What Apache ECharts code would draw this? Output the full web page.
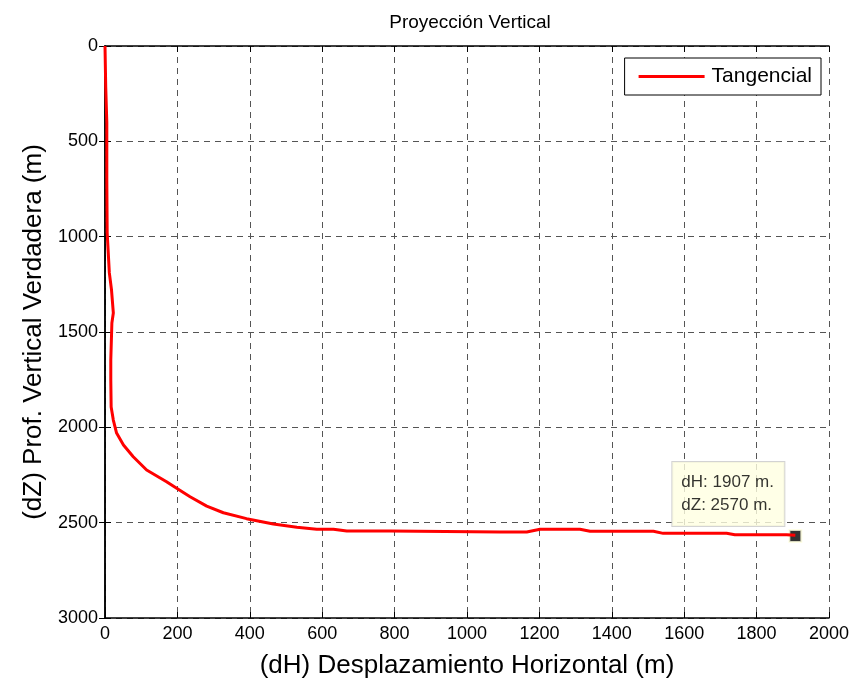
<!DOCTYPE html>
<html><head><meta charset="utf-8">
<script src="https://cdn.jsdelivr.net/npm/echarts@6/dist/echarts.min.js"></script>
<style>html,body{margin:0;padding:0;background:#fff}#c{width:857px;height:684px}</style>
</head><body><div id="c"></div>
<script>
const dH = [0, 2, 5, 5, 6, 8, 12, 18, 23, 19, 16, 16, 17, 23, 32, 51, 78, 115, 170, 198, 235, 281, 327, 391, 465, 530, 585, 631, 668, 787, 1091, 1165, 1202, 1312, 1340, 1515, 1542, 1717, 1740, 1883, 1907];
const dZ = [0, 215, 400, 700, 980, 1050, 1190, 1280, 1400, 1453, 1647, 1752, 1893, 1962, 2030, 2093, 2154, 2224, 2285, 2320, 2364, 2413, 2448, 2479, 2507, 2524, 2535, 2535, 2544, 2544, 2549, 2549, 2535, 2535, 2545, 2545, 2556, 2556, 2563, 2563, 2566];
const endPoint = [1907, 2570];
const xTicks = {min: 0, max: 2000, interval: 200};
const yTicks = {min: 0, max: 3000, interval: 500};

const font = 'Liberation Sans, Arial, sans-serif';
const grid = {left: 105, top: 46, right: 28, bottom: 66};
const gridLine = {show: true, lineStyle: {color: '#555', type: [6, 5], width: 1}};
const plain = v => String(v);
const chart = echarts.init(document.getElementById('c'));
chart.setOption({
  animation: false,
  title: {text: 'Proyección Vertical', left: 465, top: 8, textAlign: 'center',
    textStyle: {fontFamily: font, fontSize: 19, fontWeight: 'normal', color: '#000'}},
  grid: grid,
  legend: {right: 36, top: 58, orient: 'horizontal', borderColor: '#000', borderWidth: 1,
    padding: [8, 9, 8, 14], itemWidth: 66, itemHeight: 3, itemGap: 4, icon: 'rect',
    backgroundColor: '#fff',
    textStyle: {fontFamily: font, fontSize: 21, color: '#000', padding: [0, 0, 0, 2]},
    data: ['Tangencial']},
  xAxis: [{type: 'value', min: xTicks.min, max: xTicks.max, interval: xTicks.interval,
    name: '(dH) Desplazamiento Horizontal (m)', nameLocation: 'middle', nameGap: 35,
    nameTextStyle: {fontFamily: font, fontSize: 26, color: '#000'},
    axisLine: {show: true, onZero: false, lineStyle: {color: '#000', width: 1.5}},
    axisTick: {show: true, inside: true, length: 6, lineStyle: {color: '#000'}},
    axisLabel: {fontFamily: font, fontSize: 18, color: '#000', margin: 7, formatter: plain},
    splitLine: gridLine},
    {type: 'value', position: 'top', min: xTicks.min, max: xTicks.max, interval: xTicks.interval,
    axisLine: {show: true, lineStyle: {color: '#000', width: 1.5}},
    axisTick: {show: true, inside: true, length: 6, lineStyle: {color: '#000'}},
    axisLabel: {show: false}, splitLine: {show: false}}],
  yAxis: [{type: 'value', inverse: true, min: yTicks.min, max: yTicks.max, interval: yTicks.interval,
    name: '(dZ) Prof. Vertical Verdadera (m)', nameLocation: 'middle', nameGap: 56,
    nameTextStyle: {fontFamily: font, fontSize: 26, color: '#000'},
    axisLine: {show: true, onZero: false, lineStyle: {color: '#000', width: 1.5}},
    axisTick: {show: true, inside: true, length: 6, lineStyle: {color: '#000'}},
    axisLabel: {fontFamily: font, fontSize: 18, color: '#000', margin: 7, formatter: plain},
    splitLine: gridLine},
    {type: 'value', position: 'right', inverse: true, min: yTicks.min, max: yTicks.max, interval: yTicks.interval,
    axisLine: {show: true, lineStyle: {color: '#000', width: 1.5}},
    axisTick: {show: true, inside: true, length: 6, lineStyle: {color: '#000'}},
    axisLabel: {show: false}, splitLine: {show: false}}],
  series: [{
    name: 'Tangencial', type: 'line', symbol: 'none', color: '#ff0000',
    lineStyle: {width: 3, color: '#ff0000'},
    data: dH.map((v, i) => [v, dZ[i]])
  }, {
    name: 'punto', type: 'scatter', symbol: 'rect', symbolSize: 12,
    itemStyle: {color: '#000', borderColor: '#ffffe1', borderWidth: 2},
    data: [endPoint],
    label: {show: true, position: [-116, -3], align: 'left', verticalAlign: 'bottom',
      width: 95, overflow: 'none',
      formatter: p => 'dH: ' + p.value[0] + ' m.\ndZ: ' + p.value[1] + ' m.',
      fontFamily: font, fontSize: 17, color: '#000', lineHeight: 23,
      backgroundColor: '#ffffe1', borderColor: '#c8c8c8', borderWidth: 1,
      padding: [9, 8, 9, 9]}
  }]
});
</script></body></html>
